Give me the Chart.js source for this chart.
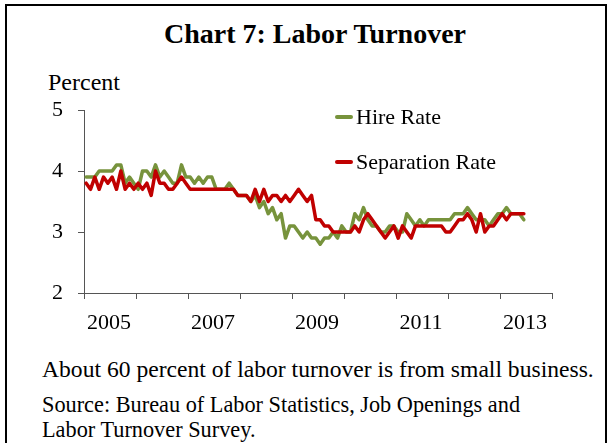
<!DOCTYPE html>
<html>
<head>
<meta charset="utf-8">
<script src="https://cdn.jsdelivr.net/npm/chart.js@4.4.0/dist/chart.umd.min.js"></script>
<style>
  body { margin: 0; background: #fff; font-family: "Liberation Serif", "Times New Roman", serif; color: #000; }
  #frame { position: absolute; left: 5px; top: 4px; width: 598px; height: 460px; border: 2px solid #000; }
  #title { position: absolute; left: 115px; width: 400px; top: 18px; text-align: center; font-weight: bold; font-size: 28px; line-height: 32px; }
  #unit { position: absolute; left: 48px; top: 68px; font-size: 24px; line-height: 28px; }
  #chartBox { position: absolute; left: 0; top: 0; width: 612px; height: 340px; }
  .legend-row { position: absolute; left: 335px; font-size: 22px; line-height: 26px; white-space: nowrap; }
  .legend-line { position: absolute; left: 0; width: 18px; height: 4px; border-radius: 2px; }
  .legend-text { position: absolute; left: 21px; top: 0; }
  .note { position: absolute; left: 42px; font-size: 22.3px; line-height: 27px; white-space: nowrap; }
  .note.lead { font-size: 23.6px; }
</style>
</head>
<body>
<div id="frame"></div>
<div id="title">Chart 7: Labor Turnover</div>
<div id="unit">Percent</div>
<div id="chartBox"><canvas id="chartCanvas"></canvas></div>
<div id="legend"></div>
<div class="note lead" style="top:356px">About 60 percent of labor turnover is from small business.</div>
<div class="note" style="top:391px">Source: Bureau of Labor Statistics, Job Openings and</div>
<div class="note" style="top:416px">Labor Turnover Survey.</div>

<script>
// monthly rates, Jan 2005 - Jun 2013
const firstYear = 2005;
const lastYear = 2014;
const yearLabels = ["2005", "2007", "2009", "2011", "2013"];

const hireRate = [
  3.9, 3.9, 3.9, 4.0, 4.0, 4.0, 4.0, 4.1, 4.1, 3.8, 3.9, 3.8,
  3.7, 4.0, 4.0, 3.9, 4.1, 3.9, 4.0, 3.9, 3.8, 3.8, 4.1, 3.9,
  3.9, 3.8, 3.9, 3.8, 3.9, 3.9, 3.7, 3.7, 3.7, 3.8, 3.7, 3.6,
  3.6, 3.6, 3.5, 3.6, 3.4, 3.5, 3.3, 3.4, 3.2, 3.3, 2.9, 3.1,
  3.1, 3.0, 2.9, 3.0, 2.9, 2.9, 2.8, 2.9, 2.9, 3.0, 2.9, 3.1,
  3.0, 3.0, 3.3, 3.2, 3.4, 3.2, 3.1, 3.1, 3.0, 3.0, 3.1, 3.1,
  3.0, 3.0, 3.3, 3.2, 3.1, 3.2, 3.1, 3.2, 3.2, 3.2, 3.2, 3.2,
  3.2, 3.3, 3.3, 3.3, 3.4, 3.3, 3.2, 3.2, 3.2, 3.1, 3.2, 3.3,
  3.3, 3.4, 3.3, 3.3, 3.3, 3.2
];

const separationRate = [
  3.8, 3.7, 3.9, 3.7, 3.9, 3.8, 3.9, 3.7, 4.0, 3.7, 3.8, 3.7,
  3.8, 3.7, 3.8, 3.6, 4.0, 3.8, 3.8, 3.7, 3.7, 3.8, 3.9, 3.8,
  3.7, 3.7, 3.7, 3.7, 3.7, 3.7, 3.7, 3.7, 3.7, 3.7, 3.7, 3.6,
  3.6, 3.6, 3.5, 3.7, 3.5, 3.7, 3.5, 3.6, 3.6, 3.5, 3.6, 3.5,
  3.6, 3.7, 3.6, 3.5, 3.6, 3.2, 3.2, 3.1, 3.1, 3.0, 3.0, 3.0,
  3.0, 3.0, 3.1, 3.0, 3.2, 3.3, 3.2, 3.1, 3.0, 2.9, 3.0, 3.1,
  2.9, 3.1, 3.0, 2.9, 3.1, 3.1, 3.1, 3.1, 3.1, 3.1, 3.1, 3.0,
  3.0, 3.1, 3.2, 3.2, 3.3, 3.2, 3.0, 3.3, 3.0, 3.1, 3.1, 3.2,
  3.3, 3.2, 3.3, 3.3, 3.3, 3.3
];

const seriesNames = ["Hire Rate", "Separation Rate"];
const seriesColors = ["#77933C", "#C00000"];

const legendTops = [104, 149];
const axisColor = "#555";
const fontFamily = '"Liberation Serif", "Times New Roman", serif';

function toPoints(values) {
  // each month sits in the middle of its slot on the year axis
  return values.map((v, i) => ({ x: firstYear + (i + 0.5) / 12, y: v }));
}

const ctx = document.getElementById("chartCanvas").getContext("2d");
const chart = new Chart(ctx, {
  type: "line",
  data: {
    datasets: [
      {
        label: seriesNames[0],
        data: toPoints(hireRate),
        borderColor: seriesColors[0],
        borderWidth: 3.5,
        order: 2,
      },
      {
        label: seriesNames[1],
        data: toPoints(separationRate),
        borderColor: seriesColors[1],
        borderWidth: 3.5,
        order: 1,
      },
    ],
  },
  options: {
    animation: false,
    responsive: true,
    maintainAspectRatio: false,
    layout: { padding: { top: 110, right: 60, bottom: 0, left: 0 } },
    elements: {
      point: { radius: 0 },
      line: { tension: 0, borderJoinStyle: "round", borderCapStyle: "round" },
    },
    plugins: {
      legend: { display: false },
      tooltip: { enabled: false },
    },
    scales: {
      x: {
        type: "linear",
        min: firstYear,
        max: lastYear,
        afterFit: (scale) => { scale.height = 47; },
        grid: { drawOnChartArea: false, drawTicks: true, tickLength: 6, color: axisColor },
        border: { display: true, color: axisColor, width: 1 },
        ticks: {
          stepSize: 1,
          autoSkip: false,
          maxRotation: 0,
          labelOffset: 25,
          padding: 11,
          color: "#000",
          font: { family: fontFamily, size: 22 },
          callback: (value) => (yearLabels.includes(String(value)) ? String(value) : ""),
        },
      },
      y: {
        min: 2,
        max: 5,
        afterFit: (scale) => { scale.width = 84; },
        grid: { drawOnChartArea: false, drawTicks: true, tickLength: 6, color: axisColor },
        border: { display: true, color: axisColor, width: 1 },
        ticks: {
          stepSize: 1,
          padding: 15,
          color: "#000",
          font: { family: fontFamily, size: 22 },
        },
      },
    },
  },
});

function buildLegend(chart) {
  const box = document.getElementById("legend");
  chart.data.datasets.forEach((ds, i) => {
    const row = document.createElement("div");
    row.className = "legend-row";
    row.style.top = legendTops[i] + "px";
    const line = document.createElement("span");
    line.className = "legend-line";
    line.style.background = ds.borderColor;
    line.style.top = "11px";
    const text = document.createElement("span");
    text.className = "legend-text";
    text.textContent = ds.label;
    row.appendChild(line);
    row.appendChild(text);
    box.appendChild(row);
  });
}

buildLegend(chart);
</script>
</body>
</html>
